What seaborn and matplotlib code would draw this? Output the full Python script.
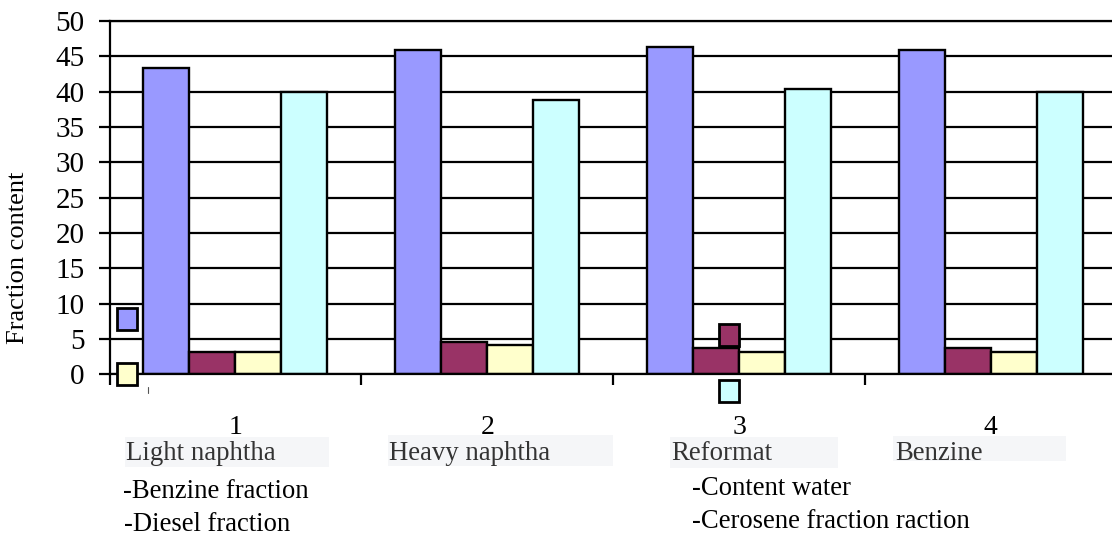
import numpy as np
import pandas as pd
import matplotlib
matplotlib.use("Agg")
import matplotlib.pyplot as plt
import seaborn as sns
from matplotlib.patches import Rectangle
from matplotlib.lines import Line2D

# ---- data -------------------------------------------------------------
groups = ["1", "2", "3", "4"]
products = ["Light naphtha", "Heavy naphtha", "Reformat", "Benzine"]

benzine_fraction = [43.3, 45.9, 46.3, 45.9]
content_water = [3.2, 4.6, 3.7, 3.7]
diesel_fraction = [3.2, 4.1, 3.2, 3.2]
cerosene_fraction = [40.0, 38.8, 40.4, 40.0]

series_names = ["Benzine fraction", "Content water", "Diesel fraction", "Cerosene fraction"]
series_colors = ["#9999FF", "#993366", "#FFFFCC", "#CCFFFF"]
y_ticks = [0, 5, 10, 15, 20, 25, 30, 35, 40, 45, 50]

df = pd.DataFrame({
    "group": groups * 4,
    "series": np.repeat(series_names, len(groups)),
    "value": benzine_fraction + content_water + diesel_fraction + cerosene_fraction,
})

# ---- style ------------------------------------------------------------
sns.set_theme(style="white")
plt.rcParams["font.family"] = ["Liberation Serif", "DejaVu Serif"]

W, H = 1112, 535
fig = plt.figure(figsize=(W / 100, H / 100), dpi=100)


def fx(x):
    return x / W


def fy(y):
    return 1 - y / H


def fig_box(x0, y0, x1, y1, face, edge="none", lw=0.0, z=5):
    r = Rectangle((fx(x0), fy(y1)), (x1 - x0) / W, (y1 - y0) / H,
                  transform=fig.transFigure, facecolor=face, edgecolor=edge,
                  linewidth=lw, zorder=z)
    fig.add_artist(r)


ax = fig.add_axes([fx(109.5), fy(374.3), (1116.7 - 109.5) / W, (374.3 - 21) / H])

sns.barplot(data=df, x="group", y="value", hue="series", hue_order=series_names,
            palette=series_colors, width=0.73, edgecolor="black", linewidth=1.7,
            errorbar=None, legend=False, saturation=1, ax=ax)

ax.set_xlim(-0.5, 3.5)
ax.set_ylim(0, 50)
ax.set_xlabel("")
ax.set_ylabel("")

ax.set_yticks(y_ticks)
ax.set_axisbelow(True)
ax.yaxis.grid(True, color="black", linewidth=1.6)
ax.tick_params(axis="y", direction="out", length=8, width=1.6, color="black",
               labelsize=21, pad=10, labelcolor="black", left=True)

ax.set_xticks([-0.5, 0.5, 1.5, 2.5, 3.5], labels=[""] * 5)
ax.set_xticks(range(len(groups)), labels=groups, minor=True)
ax.tick_params(axis="x", which="major", direction="out", length=8, width=1.6,
               color="black", bottom=True)
ax.tick_params(axis="x", which="minor", length=0, labelsize=20, pad=29,
               labelcolor="black", bottom=True)

for side in ["left", "bottom", "top"]:
    ax.spines[side].set_visible(True)
    ax.spines[side].set_color("black")
    ax.spines[side].set_linewidth(1.6)
ax.spines["right"].set_visible(False)

# axis title
fig.text(fx(18), fy(258), "Fraction content", rotation=90, ha="center",
         va="center", fontsize=19, color="black")

# product names on shaded strips
name_boxes = [(125, 437, 329, 467), (388, 435, 613, 466),
              (670, 437, 838, 468), (893, 436, 1066, 461)]
name_x = [126, 389, 671, 895]
for name, box, x in zip(products, name_boxes, name_x):
    fig_box(*box, face="#F5F6F8", z=1)
    fig.text(fx(x), fy(460), name, ha="left", va="baseline", fontsize=19.3,
             color="#333333", zorder=2)

# legend keys
key_pos = [(117, 308, 137, 330), (719, 324, 739, 346),
           (117, 363, 137, 385), (719, 380, 739, 402)]
for color, box in zip(series_colors, key_pos):
    fig_box(*box, face=color, edge="black", lw=2.0, z=6)

fig.add_artist(Line2D([fx(148), fx(148)], [fy(387), fy(393)],
                      transform=fig.transFigure, color="#555555", lw=0.8))

# legend labels
legend_text = [("-" + series_names[0], 123, 498), ("-" + series_names[2], 124, 531),
               ("-" + series_names[1], 692, 495), ("-" + series_names[3] + " raction", 692, 528)]
for txt, x, y in legend_text:
    fig.text(fx(x), fy(y), txt, ha="left", va="baseline", fontsize=19.2, color="black")

fig.savefig("out.png", dpi=100)
